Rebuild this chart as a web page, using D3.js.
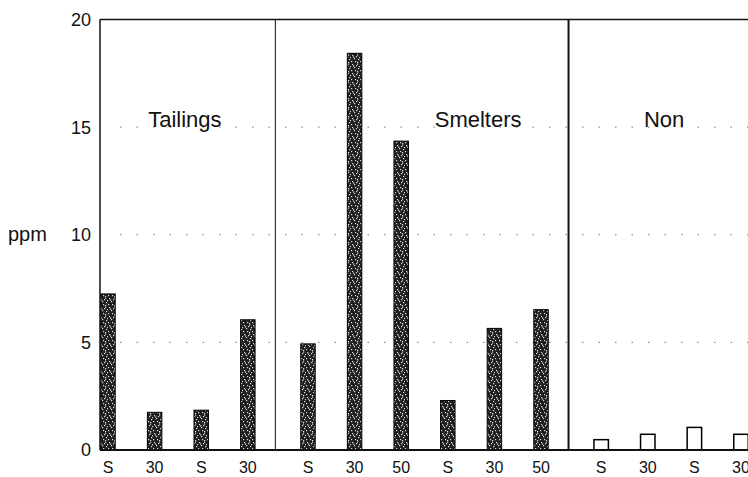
<!DOCTYPE html>
<html>
<head>
<meta charset="utf-8">
<script src="https://cdn.jsdelivr.net/npm/d3@7"></script>
<style>
  html, body { margin: 0; padding: 0; background: #fff; }
  svg { display: block; }
  text { font-family: "Liberation Sans", Arial, Helvetica, sans-serif; fill: #111; }
</style>
</head>
<body>
<svg id="chart" width="748" height="477"></svg>
<script>
// ---- data ----
const groups = ["Tailings", "Smelters", "Non"];
const tailingsLabels = ["S", "30", "S", "30"];
const tailingsValues = [7.25, 1.75, 1.85, 6.05];
const smeltersLabels = ["S", "30", "50", "S", "30", "50"];
const smeltersValues = [4.93, 18.43, 14.35, 2.3, 5.65, 6.52];
const nonLabels = ["S", "30", "S", "30"];
const nonValues = [0.48, 0.73, 1.05, 0.73];
const yTicks = [0, 5, 10, 15, 20];
const gridValues = [5, 10, 15];
const yLabel = "ppm";

// ---- build rows ----
const groupData = [
  { name: groups[0], labels: tailingsLabels, values: tailingsValues, hollow: false },
  { name: groups[1], labels: smeltersLabels, values: smeltersValues, hollow: false },
  { name: groups[2], labels: nonLabels, values: nonValues, hollow: true }
];
const GAP = 0.29;           // extra spacing between groups, in slot units
const rows = [];
let slot = 0;
groupData.forEach((g, gi) => {
  g.start = slot + gi * GAP;
  g.labels.forEach((lab, i) => {
    rows.push({ group: g.name, gi, label: lab, value: g.values[i], hollow: g.hollow, pos: slot + gi * GAP });
    slot++;
  });
  g.end = slot - 1 + gi * GAP;
});
const maxPos = rows[rows.length - 1].pos;

// ---- scales ----
const svg = d3.select("#chart");
const x = d3.scaleLinear().domain([0, maxPos]).range([108, 741]);
const y = d3.scaleLinear().domain([0, 20]).range([450, 19.5]);
const step = x(1) - x(0);
const barW = step * 0.31;
const plotLeft = 100, plotRight = 748;

// ---- speckle pattern ----
const defs = svg.append("defs");
const pat = defs.append("pattern").attr("id", "speckle")
  .attr("patternUnits", "userSpaceOnUse").attr("width", 9).attr("height", 9);
pat.append("rect").attr("width", 9).attr("height", 9).attr("fill", "#1e1e1e");
[[1,1],[5,2],[3,4],[7,5],[0,7],[4,7],[6,8],[2,2.5],[8,3],[6,0.5]].forEach(([a,b]) => {
  pat.append("rect").attr("x", a).attr("y", b).attr("width", 1.2).attr("height", 1.2).attr("fill", "#e0e0e0");
});

// ---- grid (sparse dotted) ----
svg.append("g").selectAll("line").data(gridValues).join("line")
  .attr("x1", plotLeft + 20).attr("x2", plotRight)
  .attr("y1", d => y(d)).attr("y2", d => y(d))
  .attr("stroke", "#777").attr("stroke-width", 1)
  .attr("stroke-dasharray", "1.5,15");

// ---- bars ----
svg.append("g").selectAll("rect").data(rows).join("rect")
  .attr("x", d => x(d.pos) - barW / 2)
  .attr("y", d => y(d.value))
  .attr("width", barW)
  .attr("height", d => y(0) - y(d.value))
  .attr("fill", d => d.hollow ? "#fff" : "url(#speckle)")
  .attr("stroke", "#000")
  .attr("stroke-width", d => d.hollow ? 1.5 : 1);

// ---- frame lines ----
const frame = svg.append("g").attr("stroke", "#111").attr("fill", "none");
frame.append("line").attr("x1", plotLeft).attr("x2", plotLeft).attr("y1", y(20)).attr("y2", y(0)).attr("stroke-width", 1.5);
frame.append("line").attr("x1", plotLeft).attr("x2", plotRight).attr("y1", y(20)).attr("y2", y(20)).attr("stroke-width", 1.5);
frame.append("line").attr("x1", plotLeft).attr("x2", plotRight).attr("y1", y(0)).attr("y2", y(0)).attr("stroke-width", 2);
// group dividers
groupData.slice(0, -1).forEach((g, i) => {
  const dx = x(g.end) + 0.59 * step;
  frame.append("line").attr("x1", dx).attr("x2", dx).attr("y1", y(20)).attr("y2", y(0))
    .attr("stroke-width", i === 0 ? 1 : 2);
});

// ---- y axis tick labels ----
svg.append("g").selectAll("text").data(yTicks).join("text")
  .attr("x", 91).attr("y", d => y(d))
  .attr("dy", "0.36em")
  .attr("text-anchor", "end")
  .attr("font-size", 18)
  .text(d => d);

svg.append("text").attr("x", 8).attr("y", y(10)).attr("dy", "0.3em")
  .attr("font-size", 20).text(yLabel);

// ---- x labels ----
svg.append("g").selectAll("text").data(rows).join("text")
  .attr("x", d => x(d.pos)).attr("y", 472.5)
  .attr("text-anchor", "middle")
  .attr("font-size", 16)
  .text(d => d.label);

// ---- group labels ----
const groupLabelPos = [1.65, 7.94, 11.93];
svg.append("g").selectAll("text").data(groupData).join("text")
  .attr("x", (d, i) => x(groupLabelPos[i])).attr("y", 126.5)
  .attr("text-anchor", "middle")
  .attr("font-size", 22)
  .text(d => d.name);
</script>
</body>
</html>
